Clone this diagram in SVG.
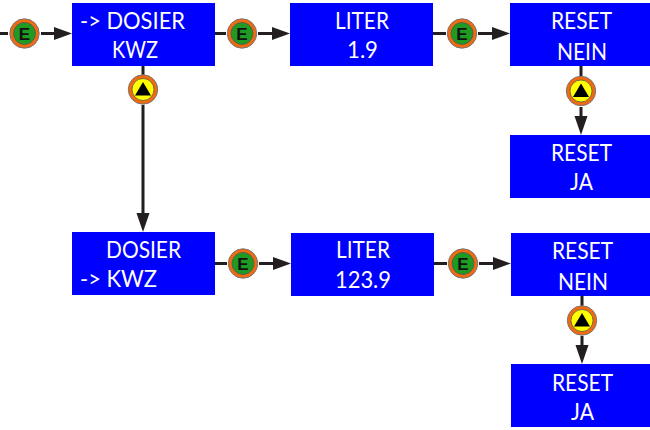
<svg xmlns="http://www.w3.org/2000/svg" width="650" height="430" viewBox="0 0 650 430">
<style>
.box{fill:#0000ff}
.t{font-family:"Lato","Open Sans",sans-serif;font-size:24px;fill:#fff}
.c{stroke:#231f20;stroke-width:3;fill:none}
.a{fill:#231f20}
.ring{fill:#f26a0f;stroke:#777;stroke-width:1}
.in{stroke:#555;stroke-width:.8}
.e{font-family:"Liberation Sans",sans-serif;font-size:17px;font-weight:bold;fill:#111;text-anchor:middle}
</style>
<defs>
<g id="btnE"><circle r="14.700" class="ring"/><circle r="11" fill="#1f9a22" class="in"/></g>
<g id="btnU"><circle r="14.700" class="ring"/><circle r="11" fill="#ffff00" class="in"/><path d="M0-7.500L8 6H-8Z" fill="#000"/></g>
<path id="ar" d="M0 0L-18-6.500V6.500Z" class="a"/>
<path id="ad" d="M0 0L-6.500-19H6.500Z" class="a"/>
</defs>
<g id="connectors">
<path class="c" d="M0 33.500H8M41 33.500H56M215 33.500H226M258 33.500H275M433 33.500H446M478 33.500H495M143 66V76M143 105V215M581 66V77M581 107V120M215 263.500H227M259 263.500H275M434 263.500H447M479 263.500H495M582 296V306M582 336V350"/>
<use href="#ar" x="72" y="33.500"/><use href="#ar" x="290" y="33.500"/><use href="#ar" x="510" y="33.500"/>
<use href="#ar" x="291" y="263.500"/><use href="#ar" x="511" y="263.500"/>
<use href="#ad" x="143" y="232"/><use href="#ad" x="581" y="135"/><use href="#ad" x="582" y="364"/>
</g>
<g id="n1"><rect class="box" x="72" y="3" width="143" height="63"/><text class="t" x="80" y="29" textLength="105" lengthAdjust="spacingAndGlyphs">-&gt; DOSIER</text><text class="t" x="112" y="58" textLength="46" lengthAdjust="spacingAndGlyphs">KWZ</text></g>
<g id="n2"><rect class="box" x="290" y="3" width="143" height="63"/><text class="t" x="335" y="29" textLength="54" lengthAdjust="spacingAndGlyphs">LITER</text><text class="t" x="347" y="58" textLength="31" lengthAdjust="spacingAndGlyphs">1.9</text></g>
<g id="n3"><rect class="box" x="510" y="3" width="140" height="63"/><text class="t" x="551" y="29" textLength="61" lengthAdjust="spacingAndGlyphs">RESET</text><text class="t" x="557" y="60" textLength="50" lengthAdjust="spacingAndGlyphs">NEIN</text></g>
<g id="n4"><rect class="box" x="510" y="135" width="140" height="63"/><text class="t" x="551" y="161" textLength="61" lengthAdjust="spacingAndGlyphs">RESET</text><text class="t" x="570" y="190" textLength="23" lengthAdjust="spacingAndGlyphs">JA</text></g>
<g id="n5"><rect class="box" x="72" y="232" width="143" height="63"/><text class="t" x="106" y="258" textLength="75" lengthAdjust="spacingAndGlyphs">DOSIER</text><text class="t" x="80" y="287" textLength="77" lengthAdjust="spacingAndGlyphs">-&gt; KWZ</text></g>
<g id="n6"><rect class="box" x="291" y="233" width="143" height="63"/><text class="t" x="336" y="258" textLength="54" lengthAdjust="spacingAndGlyphs">LITER</text><text class="t" x="335" y="288" textLength="56" lengthAdjust="spacingAndGlyphs">123.9</text></g>
<g id="n7"><rect class="box" x="511" y="233" width="139" height="63"/><text class="t" x="552" y="259" textLength="61" lengthAdjust="spacingAndGlyphs">RESET</text><text class="t" x="558" y="290" textLength="50" lengthAdjust="spacingAndGlyphs">NEIN</text></g>
<g id="n8"><rect class="box" x="511" y="364" width="139" height="63"/><text class="t" x="552" y="391" textLength="61" lengthAdjust="spacingAndGlyphs">RESET</text><text class="t" x="571" y="420" textLength="23" lengthAdjust="spacingAndGlyphs">JA</text></g>
<g id="b1"><use href="#btnE" x="24.500" y="33.500"/><text class="e" x="24.500" y="39.500">E</text></g>
<g id="b2"><use href="#btnE" x="242" y="33.500"/><text class="e" x="242" y="39.500">E</text></g>
<g id="b3"><use href="#btnE" x="462" y="33.500"/><text class="e" x="462" y="39.500">E</text></g>
<g id="b4"><use href="#btnE" x="243" y="263.500"/><text class="e" x="243" y="269.500">E</text></g>
<g id="b5"><use href="#btnE" x="463" y="263.500"/><text class="e" x="463" y="269.500">E</text></g>
<g id="b6"><use href="#btnU" x="143" y="89.500"/></g>
<g id="b7"><use href="#btnU" x="581" y="91"/></g>
<g id="b8"><use href="#btnU" x="582" y="320.500"/></g>
</svg>
